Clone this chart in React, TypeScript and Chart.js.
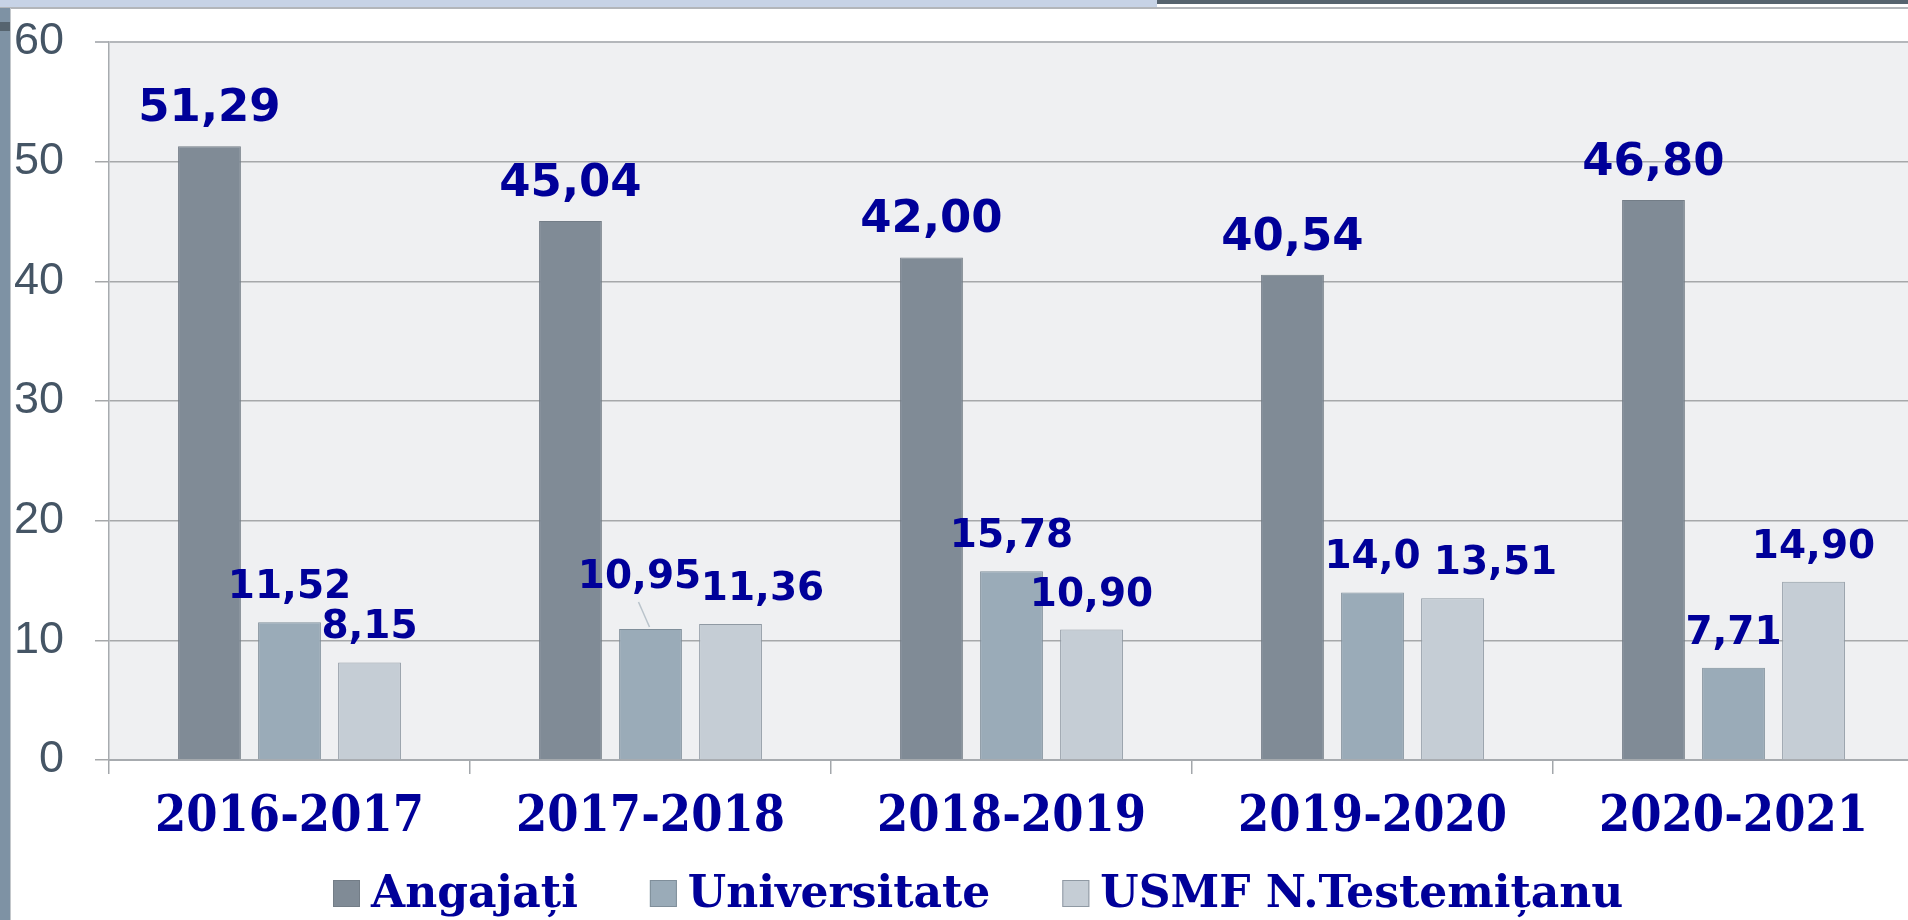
import React, { useEffect, useRef } from 'react';
import { Chart, registerables } from 'chart.js';

Chart.register(...registerables);

const categories = ['2016-2017', '2017-2018', '2018-2019', '2019-2020', '2020-2021'];
const seriesNames = ['Angajați', 'Universitate', 'USMF N.Testemițanu'];
const angajati = [51.29, 45.04, 42.0, 40.54, 46.8];
const universitate = [11.52, 10.95, 15.78, 14.0, 7.71];
const usmf = [8.15, 11.36, 10.9, 13.51, 14.9];
const angajatiLabels = ['51,29', '45,04', '42,00', '40,54', '46,80'];
const universitateLabels = ['11,52', '10,95', '15,78', '14,0', '7,71'];
const usmfLabels = ['8,15', '11,36', '10,90', '13,51', '14,90'];
const yMin = 0;
const yMax = 60;
const yStep = 10;

const seriesColors = ['#808b96', '#9aabb8', '#c5cdd5'];
const seriesBorders = ['#737d87', '#7f8e9a', '#8f99a3'];
const labelSets = [angajatiLabels, universitateLabels, usmfLabels];
const labelFontSizes = [45, 39, 39];
const labelGaps = [25, 24, 24];
// label nudges (dataset, index, dx, dy, leader line)
const labelNudges = [
  { ds: 1, i: 1, dx: -11, dy: -17, leader: true },
  { ds: 2, i: 1, dx: 32, dy: 0, leader: false },
  { ds: 2, i: 3, dx: 43, dy: 0, leader: false },
];

const TEXT_BLUE = '#000099';

const plotBg = {
  id: 'plotBg',
  beforeDraw(chart: any) {
    const { ctx, chartArea: a } = chart;
    ctx.save();
    ctx.fillStyle = '#eff0f2';
    ctx.fillRect(a.left, a.top, a.right - a.left, a.bottom - a.top);
    ctx.restore();
  },
};

const valueLabels = {
  id: 'valueLabels',
  afterDatasetsDraw(chart: any) {
    const { ctx } = chart;
    ctx.save();
    ctx.textAlign = 'center';
    ctx.textBaseline = 'alphabetic';
    chart.data.datasets.forEach((ds: any, di: number) => {
      const meta = chart.getDatasetMeta(di);
      ctx.font = `bold ${labelFontSizes[di]}px "DejaVu Sans", Verdana, sans-serif`;
      meta.data.forEach((el: any, i: number) => {
        const nudge = labelNudges.find((n) => n.ds === di && n.i === i);
        const dx = nudge ? nudge.dx : 0;
        const dy = nudge ? nudge.dy : 0;
        const tx = el.x + dx;
        const ty = el.y - labelGaps[di] + dy;
        ctx.fillStyle = TEXT_BLUE;
        ctx.fillText(labelSets[di][i], tx, ty);
        if (nudge && nudge.leader) {
          ctx.strokeStyle = '#b9c3cb';
          ctx.lineWidth = 1.5;
          ctx.beginPath();
          ctx.moveTo(tx - 1, ty + 14);
          ctx.lineTo(el.x - 1, el.y - 2);
          ctx.stroke();
        }
      });
    });
    ctx.restore();
  },
};

const customLegend = {
  id: 'customLegend',
  afterDraw(chart: any) {
    const { ctx } = chart;
    ctx.save();
    ctx.font = 'bold 44px "DejaVu Serif", serif';
    ctx.textBaseline = 'alphabetic';
    ctx.textAlign = 'left';
    const box = 27;
    const boxGap = 11;
    const itemGap = 72;
    let x = 333;
    const baseline = 907;
    chart.data.datasets.forEach((ds: any) => {
      const w = ctx.measureText(ds.label).width;
      ctx.fillStyle = ds.backgroundColor;
      ctx.fillRect(x, baseline - box, box, box);
      ctx.strokeStyle = ds.borderColor;
      ctx.lineWidth = 1;
      ctx.strokeRect(x + 0.5, baseline - box + 0.5, box - 1, box - 1);
      ctx.fillStyle = TEXT_BLUE;
      ctx.fillText(ds.label, x + box + boxGap, baseline);
      x += box + boxGap + w + itemGap;
    });
    ctx.restore();
  },
};

function BarChart() {
  const ref = useRef<HTMLCanvasElement | null>(null);
  useEffect(() => {
    if (!ref.current) return;
    const chart = new Chart(ref.current, {
      type: 'bar',
      data: {
        labels: categories,
        datasets: [angajati, universitate, usmf].map((d, k) => ({
          label: seriesNames[k],
          data: d,
          backgroundColor: seriesColors[k],
          borderColor: seriesBorders[k],
          borderWidth: 1,
          categoryPercentage: 0.665,
          barPercentage: 0.785,
        })),
      },
      options: {
        responsive: false,
        animation: false,
        layout: { padding: { top: 42, right: 6, left: 0, bottom: 0 } },
        plugins: {
          legend: { display: false },
          tooltip: { enabled: false },
        },
        scales: {
          x: {
            afterFit: (s: any) => {
              s.height = 160;
            },
            grid: {
              display: true,
              drawOnChartArea: false,
              drawTicks: true,
              tickLength: 14,
              color: '#a3a7ab',
              lineWidth: 1.5,
            },
            border: { display: true, color: '#a7abaf', width: 2 },
            ticks: {
              color: TEXT_BLUE,
              padding: 14,
              font: { family: '"DejaVu Serif Condensed", "DejaVu Serif", serif', size: 50, weight: 'bold' },
              maxRotation: 0,
              autoSkip: false,
            },
          },
          y: {
            min: yMin,
            max: yMax,
            afterFit: (s: any) => {
              s.width = 109;
              s.paddingTop = 0;
              s.paddingBottom = 0;
            },
            grid: {
              drawTicks: true,
              tickLength: 14,
              color: (c: any) => (c.tick && c.tick.value === yMax ? '#b4b7bb' : '#a6a8aa'),
              lineWidth: (c: any) => (c.tick && c.tick.value === yMax ? 2 : 1.5),
            },
            border: { display: true, color: '#a7abaf', width: 1.5 },
            ticks: {
              stepSize: yStep,
              color: '#455565',
              padding: 31,
              font: { family: '"Liberation Sans", Arial, sans-serif', size: 45 },
            },
          },
        },
      },
      plugins: [plotBg, valueLabels, customLegend],
    } as any);
    return () => chart.destroy();
  }, []);
  return <canvas ref={ref} width={1920} height={920} style={{ position: 'absolute', left: 0, top: 0, width: 1920, height: 920 }} />;
}

export default function App() {
  return (
    <div
      style={{
        position: 'fixed',
        left: 0,
        top: 0,
        width: 1908,
        height: 920,
        overflow: 'hidden',
        background: '#ffffff',
      }}
    >
      <div style={{ position: 'absolute', left: 0, top: 0, width: 1157, height: 7, background: '#c7d3e6' }} />
      <div style={{ position: 'absolute', left: 1157, top: 0, width: 751, height: 4, background: '#56636e' }} />
      <div style={{ position: 'absolute', left: 0, top: 7, width: 1908, height: 2, background: '#b3b6ba' }} />
      <div style={{ position: 'absolute', left: 0, top: 8, width: 10, height: 912, background: '#7e92a4' }} />
      <div style={{ position: 'absolute', left: 0, top: 22, width: 10, height: 9, background: '#56646f' }} />
      <div style={{ position: 'absolute', left: 10, top: 8, width: 1, height: 912, background: '#c3c7cb' }} />
      <BarChart />
    </div>
  );
}
